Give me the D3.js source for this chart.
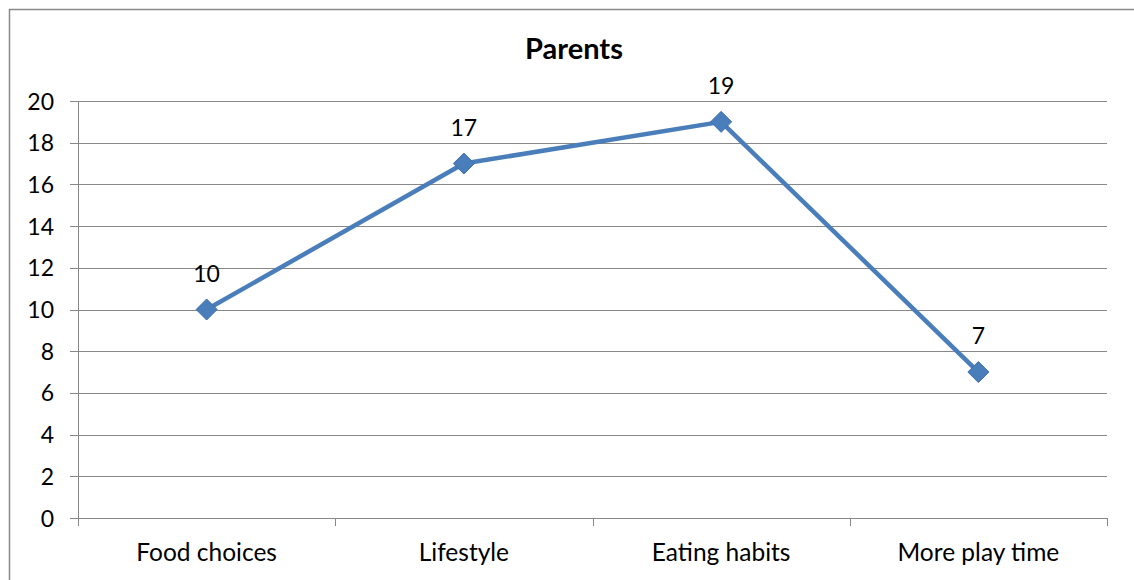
<!DOCTYPE html>
<html><head><meta charset="utf-8">
<script src="https://cdn.jsdelivr.net/npm/d3@7"></script>
<style>body{margin:0;background:#fff}svg{display:block}text{font-family:Lato,"Open Sans",sans-serif}</style>
</head><body><svg id="c" width="1134" height="580"></svg>
<script>
const categories = ["Food choices","Lifestyle","Eating habits","More play time"];
const values = [10,17,19,7];
const yTicks = [0,2,4,6,8,10,12,14,16,18,20];
const title = "Parents";

const svg = d3.select("#c");
const L=78,R=1107,T=101,B=518;
svg.append("rect").attr("x",9.5).attr("y",9.5).attr("width",1140).attr("height",600)
  .attr("fill","none").attr("stroke","#898989").attr("stroke-width",1.5);

const x = d3.scaleBand().domain(categories).range([L,R]);
const y = d3.scaleLinear().domain([0,20]).range([B,T]);

// gridlines
svg.append("g").selectAll("line").data(yTicks).join("line")
  .attr("x1",70).attr("x2",R).attr("y1",d=>Math.round(y(d))+0.5).attr("y2",d=>Math.round(y(d))+0.5)
  .attr("stroke","#888").attr("stroke-width",1);
// y axis line
svg.append("line").attr("x1",L+0.5).attr("x2",L+0.5).attr("y1",T).attr("y2",B+8).attr("stroke","#888");
// x ticks
const xt = categories.map(c=>x(c)).concat([R]);
svg.append("g").selectAll("line").data(xt).join("line")
  .attr("x1",d=>Math.round(d)+0.5).attr("x2",d=>Math.round(d)+0.5).attr("y1",B).attr("y2",B+8).attr("stroke","#888");
// y labels
svg.append("g").selectAll("text").data(yTicks).join("text")
  .attr("x",54).attr("y",d=>y(d)+8.5).attr("text-anchor","end")
  .attr("font-size",23).attr("fill","#000").text(d=>d);
// x labels
svg.append("g").selectAll("text").data(categories).join("text")
  .attr("x",d=>x(d)+x.bandwidth()/2).attr("y",561).attr("text-anchor","middle")
  .attr("font-size",24.5).attr("fill","#000").text(d=>d);
// title
svg.append("text").attr("x",574).attr("y",59).attr("text-anchor","middle")
  .attr("font-size",29).attr("font-weight","bold").text(title);

const data = categories.map((c,i)=>({c,v:values[i]}));
const cx = d=>x(d.c)+x.bandwidth()/2;
svg.append("path").datum(data).attr("fill","none").attr("stroke","#4A7EBB").attr("stroke-width",4.5)
  .attr("stroke-linejoin","round")
  .attr("d",d3.line().x(cx).y(d=>y(d.v)));
svg.append("g").selectAll("path").data(data).join("path")
  .attr("transform",d=>`translate(${cx(d)},${y(d.v)})`)
  .attr("d","M0,-10.5L10.5,0L0,10.5L-10.5,0Z").attr("fill","#4A7EBB").attr("stroke","#3E6FA8").attr("stroke-width",1);
svg.append("g").selectAll("text").data(data).join("text")
  .attr("x",cx).attr("y",d=>y(d.v)-28).attr("text-anchor","middle")
  .attr("font-size",23).attr("fill","#000").text(d=>d.v);
</script></body></html>
